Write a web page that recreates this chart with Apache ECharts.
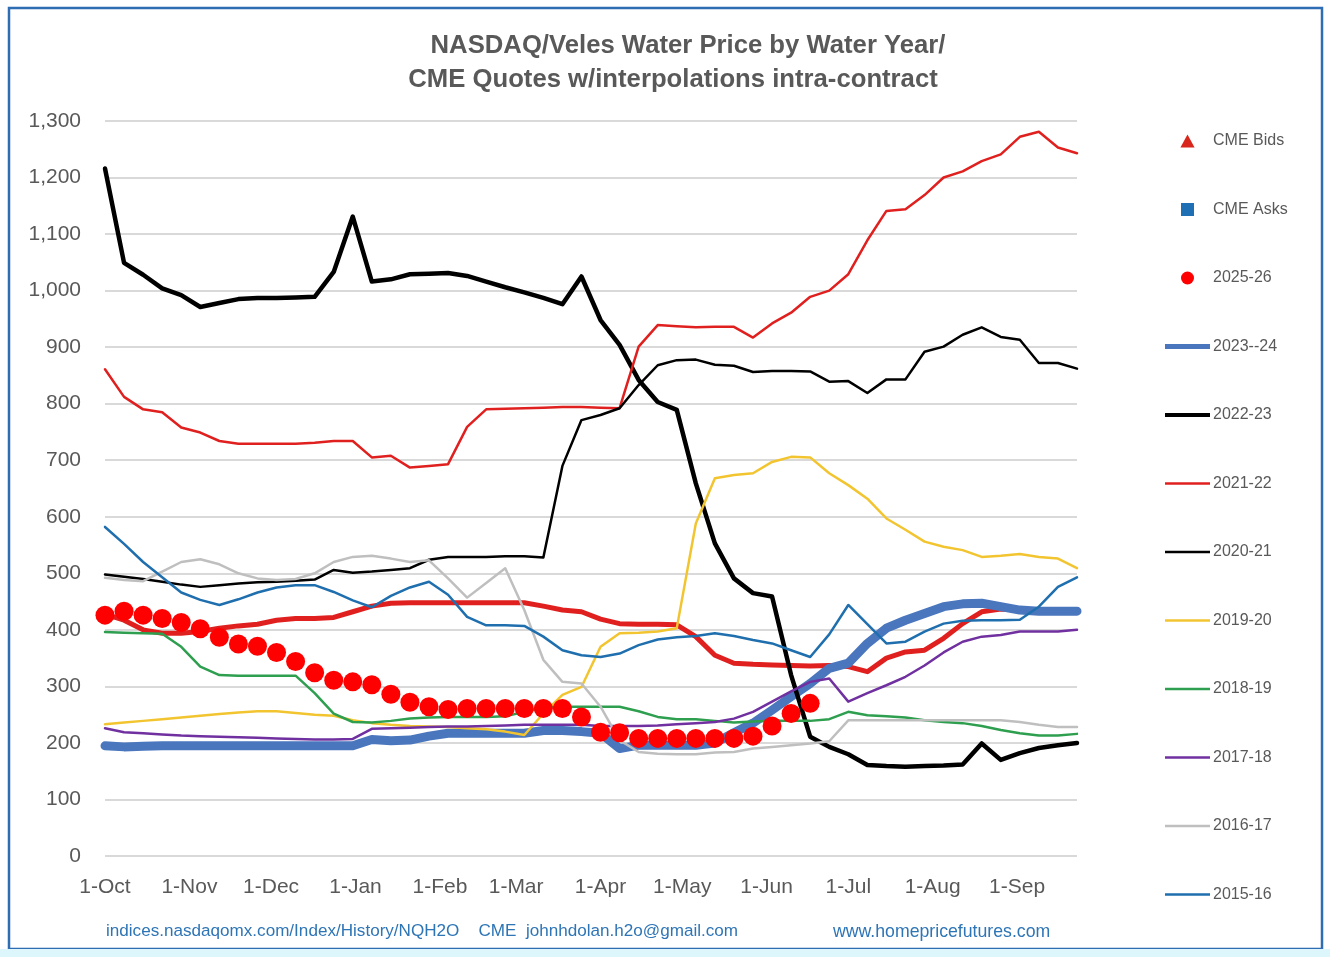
<!DOCTYPE html>
<html>
<head>
<meta charset="utf-8">
<script src="https://cdn.jsdelivr.net/npm/echarts@6/dist/echarts.min.js"></script>
<style>
html,body{margin:0;padding:0;background:#fff;}
#c{width:1330px;height:957px;}
</style>
</head>
<body>
<div id="c"></div>
<script>
// Tick labels (x axis): month starts, in days from 1-Oct
const monthLabels = ['1-Oct','1-Nov','1-Dec','1-Jan','1-Feb','1-Mar','1-Apr','1-May','1-Jun','1-Jul','1-Aug','1-Sep'];
const monthDays = [0,31,61,92,123,151,182,212,243,273,304,335];
// Weekly categories (day offset from 1-Oct), 52 weeks
const weekDays = [0,7,14,21,28,35,42,49,56,63,70,77,84,91,98,105,112,119,126,133,140,147,154,161,168,175,182,189,196,203,210,217,224,231,238,245,252,259,266,273,280,287,294,301,308,315,322,329,336,343,350,357];

const y2025_26 = [426,433,426,420,413,402,387,375,371,360,344,324,311,308,303,286,272,264,259,261,261,261,261,261,261,246,219,218,208,208,208,208,208,208,212,230,252,270];
const y2024_25 = [428,417,400,394,394,397,403,407,410,417,420,420,422,432,442,447,448,448,448,448,448,448,448,442,435,432,419,411,410,410,409,388,355,341,339,338,337,336,337,335,326,350,361,364,385,411,432,437,436,434,433,433];
const y2023_24 = [195,193,194,195,195,195,195,195,195,195,195,195,195,195,206,204,205,212,217,217,217,217,217,222,222,220,217,190,196,196,196,196,200,218,235,258,282,305,332,341,376,403,417,429,441,446,447,441,435,433,433,433];
const y2022_23 = [1216,1049,1028,1004,992,971,978,985,987,987,988,989,1033,1131,1016,1020,1029,1030,1031,1026,1016,1006,997,987,976,1025,948,904,842,803,789,659,553,491,465,459,320,211,193,180,161,159,158,159,160,162,199,170,182,191,196,200];
const y2021_22 = [861,812,790,785,758,749,734,729,729,729,729,731,734,734,705,708,687,690,693,759,790,791,792,793,794,794,793,792,901,939,937,935,936,936,917,942,961,989,1000,1029,1089,1141,1144,1169,1200,1211,1229,1241,1272,1281,1253,1243];
const y2020_21 = [498,494,490,485,480,476,479,482,484,485,487,489,506,501,503,506,509,524,529,529,529,530,530,528,690,771,780,792,833,868,877,878,869,867,856,858,858,857,839,840,819,843,843,892,901,922,935,918,913,872,872,862];
const y2019_20 = [233,236,239,242,245,248,251,254,256,256,253,250,248,240,235,232,230,229,228,226,224,220,214,252,285,299,370,394,395,397,403,588,668,674,677,697,706,705,677,656,632,597,577,556,547,541,529,531,534,529,526,509];
const y2018_19 = [396,395,394,393,370,335,320,319,319,319,319,288,252,237,236,239,243,245,246,246,246,247,255,262,264,264,264,264,256,246,242,242,239,236,238,239,239,239,242,255,249,247,245,240,237,235,230,223,217,213,213,216];
const y2017_18 = [226,219,217,215,213,212,211,210,209,208,207,206,206,207,225,226,227,228,229,229,230,231,232,232,232,232,230,230,230,231,233,235,237,243,255,273,291,308,314,273,288,302,317,337,360,379,388,391,397,397,397,400];
const y2016_17 = [492,488,486,503,520,525,516,500,491,488,490,500,520,529,531,526,520,523,491,457,483,509,435,347,308,305,264,205,184,181,180,180,183,184,190,193,196,199,203,240,240,240,240,240,240,240,240,240,237,232,228,228];
const y2015_16 = [582,552,520,493,466,453,444,454,466,475,479,479,467,452,440,460,475,485,462,423,408,408,407,388,364,355,352,358,373,383,387,389,394,389,382,376,364,352,392,444,410,376,379,397,411,416,417,417,418,441,476,493];
const cmeBids = [];
const cmeAsks = [];

function pts(vals){ return vals.map((v,i)=>[weekDays[i], v]); }

const GRAY = '#595959';
const FONT = "'Liberation Sans', Arial, sans-serif";

function line(name, data, color, width){
  return {name, type:'line', data:pts(data), symbol:'none', smooth:false,
    lineStyle:{color, width, join:'round', cap:'round'}, itemStyle:{color}, animation:false};
}

const series = [
  {name:'CME Bids', type:'scatter', data:cmeBids, symbol:'triangle', itemStyle:{color:'#D9261C', opacity:1}},
  {name:'CME Asks', type:'scatter', data:cmeAsks, symbol:'rect', itemStyle:{color:'#1F6FB4', opacity:1}},
  line('2024-25', y2024_25, '#E0201F', 5),
  line('2023--24', y2023_24, '#4A76BE', 9),
  line('2022-23', y2022_23, '#000000', 4.5),
  line('2021-22', y2021_22, '#E0201F', 2.5),
  line('2020-21', y2020_21, '#000000', 2.5),
  line('2019-20', y2019_20, '#F2C530', 2.5),
  line('2018-19', y2018_19, '#2E9E4F', 2.5),
  line('2017-18', y2017_18, '#7030A0', 2.5),
  line('2016-17', y2016_17, '#BFBFBF', 2.5),
  line('2015-16', y2015_16, '#1F6FAE', 2.5),
  {name:'2025-26', type:'scatter', data:pts(y2025_26), symbol:'circle', symbolSize:19,
    itemStyle:{color:'#FF0000', opacity:1}, z:5, animation:false}
];

const legendNames = ['CME Bids','CME Asks','2025-26','2023--24','2022-23','2021-22','2020-21','2019-20','2018-19','2017-18','2016-17','2015-16'];
const legendIcons = {
  'CME Bids':'path://M6,0L12,11H0Z', 'CME Asks':'path://M0,0H11V11H0Z', '2025-26':'circle',
  '2023--24':'path://M0,0H45V5H0Z', '2022-23':'path://M0,0H45V4H0Z'
};
const thinLine = 'path://M0,0H45V2.6H0Z';

const option = {
  backgroundColor:'#ffffff',
  animation:false,
  title:[
    {text:'NASDAQ/Veles Water Price by Water Year/', left:683, top:28, textAlign:'center',
     textStyle:{fontFamily:FONT, fontSize:25.7, fontWeight:'bold', color:GRAY}},
    {text:'CME Quotes w/interpolations intra-contract', left:668, top:62, textAlign:'center',
     textStyle:{fontFamily:FONT, fontSize:25.7, fontWeight:'bold', color:GRAY}}
  ],
  legend:{
    orient:'vertical', left:1165, top:133, padding:0,
    itemWidth:45, itemHeight:13, itemGap:52.5, symbolKeepAspect:true,
    textStyle:{color:GRAY, fontSize:16, fontFamily:FONT, lineHeight:15, padding:[0,0,0,-2]},
    data: legendNames.map(n => ({name:n, icon: legendIcons[n] || thinLine}))
  },
  grid:{left:105, right:253, top:121, bottom:101, containLabel:false},
  xAxis:{
    type:'value', min:0, max:357,
    axisLine:{show:false}, axisTick:{show:false}, splitLine:{show:false},
    axisLabel:{
      customValues: monthDays,
      formatter: v => { const k = monthDays.indexOf(Math.round(v)); return k >= 0 ? monthLabels[k] : ''; },
      color:GRAY, fontSize:21, fontFamily:FONT, margin:21
    }
  },
  yAxis:{
    type:'value', min:0, max:1300, interval:100,
    axisLine:{show:false}, axisTick:{show:false},
    splitLine:{lineStyle:{color:'#D9D9D9', width:2}},
    axisLabel:{
      formatter: v => v.toString().replace(/\B(?=(\d{3})+(?!\d))/g, ','),
      color:GRAY, fontSize:21, fontFamily:FONT, margin:24
    }
  },
  graphic:[
    {type:'rect', shape:{x:9, y:8, width:1313, height:941}, style:{fill:null, stroke:'#2E6DB4', lineWidth:2.5}, silent:true, z:-1},
    {type:'rect', shape:{x:0, y:949, width:1330, height:8}, style:{fill:'#DDF6FB'}, silent:true, z:-1},
    {type:'text', left:106, top:923, style:{text:'indices.nasdaqomx.com/Index/History/NQH2O    CME  johnhdolan.h2o@gmail.com', fill:'#2E75B6', font:"17.1px 'Liberation Sans', sans-serif"}},
    {type:'text', left:833, top:923, style:{text:'www.homepricefutures.com', fill:'#2E75B6', font:"17.7px 'Liberation Sans', sans-serif"}}
  ],
  series
};

const chart = echarts.init(document.getElementById('c'), null, {renderer:'canvas'});
chart.setOption(option);
</script>
</body>
</html>
